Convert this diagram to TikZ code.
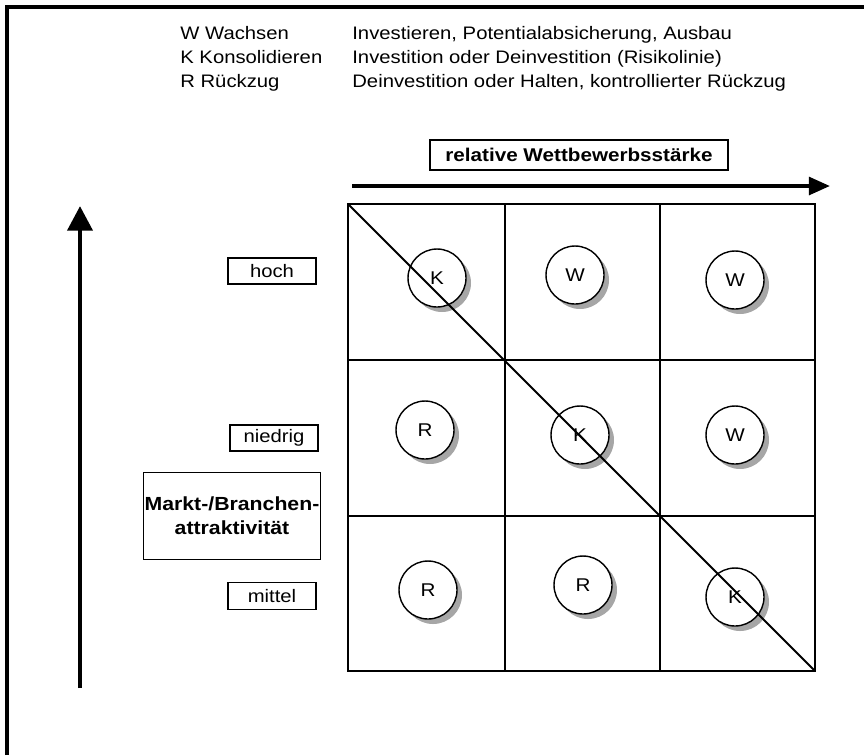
\documentclass[tikz,border=0pt]{standalone}
\usepackage{fontspec}
\setmainfont[FakeStretch=1.12]{Liberation Sans}
\usetikzlibrary{arrows.meta}
\tikzset{
	labelbox/.style={draw, line width=0.8pt, inner sep=0pt, minimum width=1.76cm, minimum height=0.52cm, font=\fontsize{10.3}{12}\selectfont},
	strategy/.style={draw, circle, line width=0.8pt, fill=white, inner sep=0pt, minimum size=1.16cm, font=\fontsize{10.5}{12}\selectfont},
	shade/.style={circle, fill=black!35, inner sep=0pt, minimum size=1.16cm},
	legend/.style={anchor=base west, inner sep=0pt, font=\fontsize{10.3}{12}\selectfont},
}
\begin{document}
\begin{tikzpicture}[x=0.02cm, y=-0.02cm]
			%%%%% START %%%%%
			\useasboundingbox (0, 0) rectangle (864, 755);
			
			\draw[line width=2.3pt] (7, 755) -- (7, 7) -- (864, 7);
			
			\node[legend] (w1) at (180, 39) {W Wachsen};
			\node[legend] (k1) at (180, 63) {K Konsolidieren};
			\node[legend] (r1) at (180, 87) {R R\"uckzug};
			\node[legend] (w2) at (352, 39) {Investieren, Potentialabsicherung, Ausbau};
			\node[legend] (k2) at (352, 63) {Investition oder Deinvestition (Risikolinie)};
			\node[legend] (r2) at (352, 87) {Deinvestition oder Halten, kontrollierter R\"uckzug};
			
			\node[labelbox, minimum width=5.96cm, minimum height=0.6cm, font=\fontsize{10.5}{12}\selectfont\bfseries] (staerke) at (579, 155) {relative Wettbewerbsst\"arke};
			\draw[line width=2.3pt, -{Triangle[length=12pt, width=10pt]}] (352, 186) -- (830, 186);
			
			\draw[line width=2.8pt, -{Triangle[length=14pt, width=14pt]}] (80, 688) -- (80, 206);
			
			\node[labelbox] (hoch) at (272, 271) {hoch};
			\node[labelbox] (niedrig) at (274, 438) {niedrig};
			\node[labelbox, minimum height=0.54cm] (mittel) at (272, 596) {mittel};
			\node[labelbox, minimum width=3.54cm, minimum height=1.74cm, align=center, font=\fontsize{10.8}{13.5}\selectfont\bfseries] (markt) at (232, 516) {Markt-/Branchen-\\attraktivit\"at};
			
			% matrix
			\draw[line width=1.1pt] (348, 204) rectangle (815, 671);
			\draw[line width=1.1pt] (505, 204) -- (505, 671);
			\draw[line width=1.1pt] (660, 204) -- (660, 671);
			\draw[line width=1.1pt] (348, 360) -- (815, 360);
			\draw[line width=1.1pt] (348, 516) -- (815, 516);
			
			% shadows
			\foreach \cx/\cy in {437/278, 575/275, 735/280, 425/430, 580/435, 735/435, 428/590, 583/585, 735/597}
				\node[shade] at (\cx+5, \cy+5) {};
			
			\node[strategy] (k11) at (437, 278) {K};
			\node[strategy] (w12) at (575, 275) {W};
			\node[strategy] (w13) at (735, 280) {W};
			\node[strategy] (r21) at (425, 430) {R};
			\node[strategy] (k22) at (580, 435) {K};
			\node[strategy] (w23) at (735, 435) {W};
			\node[strategy] (r31) at (428, 590) {R};
			\node[strategy] (r32) at (583, 585) {R};
			\node[strategy] (k33) at (735, 597) {K};
			
			% Risikolinie
			\draw[line width=1.1pt] (348, 204) -- (815, 671);
			%%%%% END %%%%%
		\end{tikzpicture}
\end{document}
